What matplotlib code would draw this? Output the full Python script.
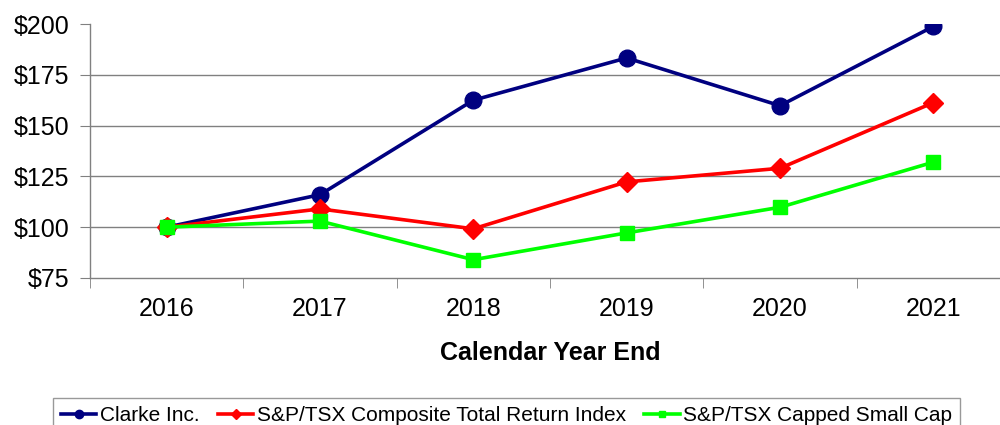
import matplotlib
matplotlib.use("Agg")
import matplotlib.pyplot as plt

plt.rcParams['font.family'] = ['Liberation Sans', 'DejaVu Sans']

years = ["2016", "2017", "2018", "2019", "2020", "2021"]
clarke = [100, 116, 162.5, 183.3, 159.8, 198.8]
composite = [100, 109, 99.2, 122.3, 129, 161.3]
smallcap = [100, 103, 84, 97.2, 109.8, 132]
y_ticks = [75, 100, 125, 150, 175, 200]
y_labels = ["$75", "$100", "$125", "$150", "$175", "$200"]

fig = plt.figure(figsize=(10, 4.25), dpi=100)
ax = fig.add_axes([0.09, 0.3459, 0.92, 0.5976])

x = list(range(len(years)))
grid_c = "#808080"
for v in y_ticks[1:-1]:
    ax.axhline(v, color=grid_c, lw=1.0, zorder=0)

ax.plot(x, clarke, color="#000080", lw=2.6, marker="o", ms=12, label="Clarke Inc.", zorder=3)
ax.plot(x, composite, color="#FF0000", lw=2.6, marker="D", ms=10.5, label="S&P/TSX Composite Total Return Index", zorder=3)
ax.plot(x, smallcap, color="#00FF00", lw=2.6, marker="s", ms=10, label="S&P/TSX Capped Small Cap", zorder=4)

ax.set_xlim(-0.5, 5.5)
ax.set_ylim(75, 200)
ax.set_yticks(y_ticks)
ax.set_yticklabels(y_labels, fontsize=18)
ax.set_xticks(x)
ax.set_xticklabels(years, fontsize=18)
ax.set_xticks([i - 0.5 for i in range(len(years) + 1)], minor=True)
ax.tick_params(axis='x', which='major', length=0, pad=14)
ax.tick_params(axis='x', which='minor', length=7, color=grid_c, direction='out')
ax.tick_params(axis='y', length=7, color=grid_c, pad=8)
for s in ['top', 'right']:
    ax.spines[s].set_visible(False)
for s in ['left', 'bottom']:
    ax.spines[s].set_color(grid_c)
    ax.spines[s].set_linewidth(1.0)

ax.set_xlabel("Calendar Year End", fontsize=18, fontweight='bold', labelpad=14)

leg = fig.legend(loc='upper center', bbox_to_anchor=(0.5065, 0.0635), ncol=3,
                 fontsize=15, frameon=True, fancybox=False, edgecolor=grid_c,
                 handlelength=1.7, handletextpad=0.15, columnspacing=0.9,
                 borderpad=0.4, borderaxespad=0, markerscale=0.5)
leg.get_frame().set_linewidth(1.0)

fig.savefig("out.png", dpi=100)
